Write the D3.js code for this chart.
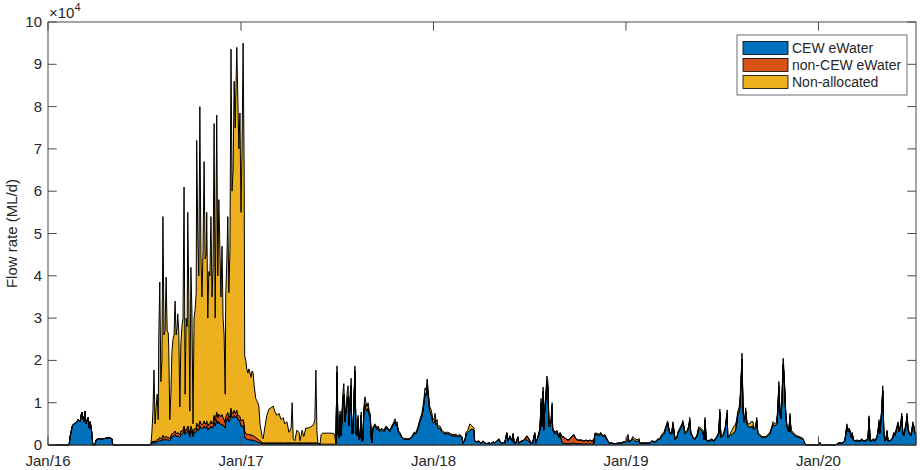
<!DOCTYPE html>
<html><head><meta charset="utf-8">
<script src="https://cdn.jsdelivr.net/npm/d3@7"></script>
<style>
body{margin:0;background:#fff}
svg{display:block}
text{font-family:"Liberation Sans",Arial,Helvetica,sans-serif;fill:#262626}
</style>
</head><body>
<svg id="chart" width="920" height="470"></svg>
<script>
// ---- data (flow in ML/d; dates as day offsets from 1 Jan 2016) ----
const startDate = new Date(2016, 0, 1);
const axisEndOffset = 1646;
const seriesNames = ["CEW eWater", "non-CEW eWater", "Non-allocated"];
const xTickLabels = ["Jan/16", "Jan/17", "Jan/18", "Jan/19", "Jan/20"];
const xTickYears = [2016, 2017, 2018, 2019, 2020];
const yTickValues = [0, 10000, 20000, 30000, 40000, 50000, 60000, 70000, 80000, 90000, 100000];

const dayOffset = [
0,40,42,46,49,53,57,61,64,68,
70,72,76,78,80,83,85,89,91,95,
102,110,118,121,123,195,
197,199,201,203,205,207,209,210,212,214,
216,218,220,222,224,226,228,229,231,233,
235,237,239,241,243,245,246,248,250,252,
254,256,258,260,262,264,265,267,269,271,
273,275,277,279,281,282,284,286,288,290,
292,294,296,298,300,301,303,305,307,309,
311,313,315,317,318,320,322,324,326,328,
330,332,334,336,337,339,341,343,345,347,
349,351,353,355,356,358,360,362,364,366,
368,370,372,373,375,377,379,381,383,385,
387,389,391,392,394,396,398,400,402,404,
406,408,
411,415,419,423,427,430,434,438,442,446,
449,453,457,461,463,465,468,472,476,478,
482,485,489,493,497,501,504,506,508,510,
512,516,518,521,529,537,542,544,546,
548,550,552,554,556,559,561,563,565,567,
569,571,573,575,576,578,580,582,584,586,
588,590,592,594,595,597,599,601,603,605,
607,609,611,613,614,616,620,624,626,629,
633,637,641,645,648,652,656,658,660,662,
664,667,671,675,679,683,686,690,694,698,
702,705,709,711,713,715,717,719,721,723,
724,726,728,730,732,734,736,738,739,743,
747,751,755,758,762,766,770,774,777,781,
785,787,791,793,796,800,804,808,809,813,
817,821,825,829,832,836,840,844,847,851,
855,859,863,866,870,872,876,880,882,884,
887,891,893,897,900,904,908,912,916,919,
923,925,929,933,935,937,939,940,942,944,
946,948,950,952,954,956,957,961,965,969,
971,975,978,982,986,990,993,997,1001,1005,
1009,1012,1016,1020,1024,1028,1031,1033,1035,1037,
1041,1045,1048,1052,1056,1060,1064,1069,1075,1081,
1086,1092,1096,1100,1102,1105,1109,1113,1117,1121,
1122,1128,1132,1136,1141,1145,1151,1157,1160,1164,
1168,1172,1175,1179,1183,1185,1189,1193,1194,1198,
1202,1204,1208,1212,1215,1217,1219,1223,1227,1231,
1234,1238,1242,1244,1246,1248,1251,1255,1259,1263,
1265,1268,1272,1274,1276,1280,1284,1288,1289,1293,
1297,1301,1303,1306,1308,1310,1312,1314,1316,1318,
1320,1322,1323,1325,1327,1331,1333,1337,1338,1342,
1344,1346,1350,1354,1357,1361,1365,1369,1373,1375,
1378,1382,1384,1386,1388,1390,1392,1394,1395,1397,
1399,1401,1403,1405,1407,1409,1413,1416,1420,1424,
1428,1432,1435,1437,1462,1464,1466,1494,1498,1505,
1511,1513,1515,1517,1519,1521,1523,1525,1527,1530,
1534,1538,1542,1543,1547,1551,1555,1557,1559,1562,
1566,1568,1572,1574,1576,1577,1579,1581,1583,1585,
1587,1589,1591,1593,1596,1600,1602,1604,1606,1608,
1610,1612,1614,1615,1617,1619,1621,1623,1625,1627,
1629,1631,1633,1634,1636,1638,1640,1642,1644,1646
];

const cew = [
0,0,2000,4500,5000,5200,6000,5500,7800,5500,
8000,5000,6500,4000,5500,3000,0,0,1200,1500,
1400,1600,1700,1500,0,0,
500,500,600,500,600,800,800,1000,1200,1000,
1000,1500,1200,1200,1400,1200,1200,1200,1000,1500,
2000,2000,2200,2500,2000,2000,2200,2000,1800,2500,
2500,2800,3500,2500,3000,3000,3500,3000,2000,3500,
3000,2000,3000,3000,3200,4000,3500,3500,4500,4000,
3800,4000,4500,4000,4000,4500,3500,4000,4000,4500,
4000,4200,5500,4500,5000,6000,5000,5500,5000,4800,
5000,4500,4500,4000,5500,6000,6500,5500,6000,7500,
6500,6500,7000,6500,6500,7000,6000,6000,5500,4500,
4500,4500,3500,2000,1500,1400,1300,1300,1200,1200,
1200,1100,1000,1000,900,800,700,600,500,400,
300,300,
300,300,300,300,300,300,300,300,300,300,
300,300,300,300,300,300,300,300,300,300,
300,300,300,300,300,300,300,300,300,300,
200,200,200,200,200,200,200,200,300,
17200,2700,1800,7200,2200,10500,12000,5500,8000,10000,
11500,4500,10500,14000,2700,2700,9000,17500,2700,2200,
6200,1300,1800,7000,900,900,8000,9800,8500,8000,
8800,7200,6800,1800,500,3800,4600,3700,4200,3200,
3700,3200,4200,3700,3200,4200,5000,5500,4500,5000,
3200,2700,1800,1300,1300,1300,1400,1800,2700,2700,
4100,5500,6800,8200,10000,12200,11800,14000,11800,9000,
8000,7500,6500,5400,5200,6000,4800,5200,4000,4000,
3100,2700,2700,2700,2500,2200,2200,2200,2000,2200,
1800,400,1300,2700,3000,3500,3800,3500,900,700,
900,400,900,400,300,500,300,700,400,900,
1300,400,400,400,2700,900,2000,900,2500,400,
400,1800,400,900,900,1300,1200,800,400,400,
2700,400,1800,3500,9500,4400,12000,3500,8000,10500,
14500,13300,4400,4400,5300,9000,3500,2600,3000,1700,
2500,500,400,300,300,300,400,500,300,300,
300,300,200,300,200,300,200,300,300,2500,
2500,2200,2700,2000,2200,1300,400,400,300,400,
400,700,700,1500,700,900,1500,1000,800,1200,
400,400,400,400,400,900,700,1300,1300,2200,
2700,4100,5200,2700,2700,5000,1300,1800,2700,3600,
4500,5300,2700,3100,4100,5900,2700,1800,1300,2200,
3900,3600,3100,1300,5900,1300,900,1000,1300,900,
1300,1800,2700,7700,1800,2200,3600,7500,1800,2200,
2500,3000,3200,5200,7200,7700,9000,13800,20200,8200,
5400,6300,8000,5400,4500,4200,4300,4500,3600,4100,
5900,2700,2200,1800,1800,1800,2200,2700,4100,5000,
4500,5000,8200,13800,7200,6300,11000,19000,17700,13000,
7200,4500,3600,3100,6800,3100,2700,2200,2000,1800,
1600,1300,400,0,0,500,0,0,400,400,
900,2700,4500,3100,3600,3100,1800,2700,1300,900,
1000,900,1000,1300,900,1000,1300,6300,900,1000,
1300,900,1800,3100,5400,2700,4500,8200,12800,2700,
900,1300,3100,900,900,1300,1800,2700,2200,3100,
4100,5000,3100,3600,4500,6800,2700,2200,3600,4500,
6800,3600,2700,2700,2200,3100,5000,4100,2700,2500
];

const nonCew = [
0,0,0,0,0,0,0,0,0,0,
0,0,0,0,0,0,0,0,0,0,
0,0,0,0,0,0,
300,300,300,300,400,500,500,500,600,500,
600,800,600,600,700,600,600,600,500,600,
700,700,800,800,700,700,800,700,600,800,
800,800,1000,700,800,800,1000,800,600,1000,
800,600,800,800,900,1200,1000,1000,1200,1000,
1000,1000,1200,1000,1000,1200,1000,1000,1000,1200,
1000,1200,1500,1200,1500,1800,1500,1800,1800,2000,
2200,2000,1500,1200,1200,1200,1200,1000,1000,1200,
1000,1000,1200,1000,1000,1200,1000,1000,1200,1200,
1400,1500,1500,1300,1200,1200,1200,1200,1200,1200,
1100,1100,1000,1000,900,800,700,600,500,400,
300,200,
200,200,200,200,200,200,200,200,200,200,
200,200,200,200,200,200,200,200,200,200,
200,200,200,200,200,200,200,200,200,200,
100,100,0,0,0,0,0,0,0,
0,0,0,0,0,0,0,0,0,0,
0,0,0,0,0,0,0,0,0,0,
0,0,0,0,0,0,0,0,0,0,
0,0,0,0,0,0,0,0,0,0,
0,0,0,0,0,0,0,0,0,0,
0,0,0,0,0,0,0,0,0,0,
0,0,0,0,0,0,0,0,0,0,
0,0,0,0,0,0,0,0,0,0,
0,0,0,0,0,0,0,0,0,0,
0,0,0,0,0,0,0,0,0,0,
0,0,0,0,0,0,0,0,0,0,
0,0,0,0,0,0,0,0,0,0,
0,0,0,0,0,0,800,600,0,0,
0,0,0,200,500,200,700,200,400,500,
600,500,200,200,200,300,200,100,200,100,
300,1400,1500,1100,800,1100,1500,1900,1100,800,
800,800,700,800,700,800,700,800,200,0,
0,0,0,0,0,0,0,0,0,0,
0,0,0,0,0,0,0,0,0,0,
0,0,0,0,0,0,0,0,0,0,
0,0,0,0,0,0,0,0,0,0,
0,0,0,0,0,0,0,0,0,0,
0,0,0,0,0,0,0,0,0,0,
0,0,0,0,0,0,0,0,0,0,
0,0,0,0,0,0,0,0,0,0,
0,0,0,0,0,0,0,0,0,0,
0,0,0,0,0,0,0,0,0,0,
0,0,0,0,0,0,0,0,0,0,
0,0,0,0,0,0,0,0,0,0,
0,0,0,0,0,0,0,0,0,0,
0,0,0,0,0,0,0,0,0,0,
0,0,0,0,0,0,0,0,0,0,
0,0,0,0,0,0,0,0,0,0,
0,0,0,0,0,0,0,0,0,0,
0,0,0,0,0,0,0,0,0,0,
0,0,0,0,0,0,0,0,0,0
];

const nonAllocated = [
0,0,0,0,0,0,0,0,0,0,
0,0,0,0,0,0,0,0,0,0,
0,0,0,0,0,0,
2200,7200,16800,4200,8000,10700,4700,23500,36700,13500,
18400,51700,24200,25200,37600,25200,24700,21200,4500,9900,
19300,22300,23000,30700,23300,25300,28000,24300,6600,20700,
24700,26400,56500,8800,26200,24200,50500,31200,5400,37500,
27200,2400,26200,28200,31900,66800,45500,35500,74300,40000,
30200,41000,61300,39000,40000,49300,25500,36000,35000,48300,
30000,36600,69000,24300,38500,70200,33500,50700,39200,28200,
39800,23500,20000,6800,28300,35800,46300,29500,39000,84900,
52500,57500,77800,67500,74500,85800,75000,63000,71800,49300,
64100,89000,60000,17700,17300,15400,14500,15500,14600,13600,
15200,14800,12000,11000,9200,8900,8600,7800,4000,2700,
1400,1000,
3500,6500,8000,8300,8700,7500,6500,7000,5500,6000,
4500,5000,2500,3500,9500,1000,500,3000,2500,500,
3000,1500,3500,3500,3700,4000,4500,5500,17200,2500,
0,0,2300,2600,2600,2600,2500,1800,200,
1500,300,200,800,300,1500,2500,500,1000,2000,
2500,500,1500,1800,300,300,1000,1200,300,300,
800,200,200,800,100,100,1000,1600,1500,1000,
1200,800,700,200,0,400,400,300,300,300,
300,300,300,300,300,300,500,700,500,500,
300,300,200,200,200,200,200,200,300,300,
400,500,700,800,1000,1300,1200,1600,1200,1000,
1000,1000,1000,600,800,1500,700,800,500,500,
400,300,300,300,300,300,300,300,200,300,
200,100,200,300,500,1500,700,500,100,100,
100,100,100,100,0,100,0,100,100,100,
200,100,100,100,300,100,200,100,300,100,
100,200,100,100,100,200,200,100,100,100,
300,100,200,300,1000,400,1000,300,600,1000,
1200,1200,400,400,500,700,300,300,300,200,
200,100,100,100,100,100,100,100,100,100,
100,100,100,100,100,100,100,100,0,300,
300,300,300,200,300,200,100,100,0,100,
100,100,100,1000,100,100,500,500,400,300,
100,100,100,100,100,100,100,200,200,300,
300,400,500,300,300,500,200,200,300,400,
500,500,300,400,400,600,300,200,200,300,
400,400,400,200,600,200,100,200,200,100,
200,200,300,800,200,300,400,800,200,300,
1000,1500,1300,800,800,800,1000,1200,1500,800,
600,700,800,600,500,800,1200,1000,400,400,
600,300,300,200,200,200,300,300,400,500,
500,500,800,1200,800,700,1000,1500,1300,1000,
800,500,400,400,700,400,300,300,200,200,
200,200,100,0,0,100,0,0,100,100,
100,300,500,400,400,400,200,300,200,100,
200,100,200,200,100,200,200,600,100,200,
200,100,200,400,600,300,500,800,1200,300,
100,200,400,100,100,200,200,300,300,400,
400,500,400,400,500,700,300,300,400,500,
700,400,300,300,300,400,500,400,300,300
];

// ---- chart ----
const colors = ["#0072BD", "#D95319", "#EDB120"];
const keys = ["cew", "nonCew", "nonAllocated"];
const n = Math.min(dayOffset.length, cew.length, nonCew.length, nonAllocated.length);
const rows = d3.range(n).map(i => ({
  date: d3.timeDay.offset(startDate, dayOffset[i]),
  cew: cew[i], nonCew: nonCew[i], nonAllocated: nonAllocated[i]
}));

const svg = d3.select("#chart");
const L = 48, R = 916, T = 22, B = 445;
const x = d3.scaleTime()
  .domain([startDate, d3.timeDay.offset(startDate, axisEndOffset)])
  .range([L, R]);
const y = d3.scaleLinear().domain([0, 100000]).range([B, T]);

const stacked = d3.stack().keys(keys)(rows);
const area = d3.area()
  .x(d => x(d.data.date))
  .y0(d => y(d[0]))
  .y1(d => y(d[1]));

svg.append("g").selectAll("path")
  .data(stacked)
  .join("path")
  .attr("d", area)
  .attr("fill", (d, i) => colors[i])
  .attr("stroke", "#000")
  .attr("stroke-width", 1)
  .attr("stroke-linejoin", "round");

// axes box
const axisColor = "#4a4a4a";
svg.append("rect")
  .attr("x", L).attr("y", T).attr("width", R - L).attr("height", B - T)
  .attr("fill", "none").attr("stroke", axisColor).attr("stroke-width", 1);

const tickLen = 8.7;
const gTicks = svg.append("g").attr("stroke", axisColor).attr("stroke-width", 1);
yTickValues.forEach(v => {
  const yy = y(v);
  gTicks.append("line").attr("x1", L).attr("x2", L + tickLen).attr("y1", yy).attr("y2", yy);
  gTicks.append("line").attr("x1", R).attr("x2", R - tickLen).attr("y1", yy).attr("y2", yy);
});
const xTickDates = xTickYears.map(yr => new Date(yr, 0, 1));
xTickDates.forEach(dt => {
  const xx = x(dt);
  gTicks.append("line").attr("x1", xx).attr("x2", xx).attr("y1", B).attr("y2", B - tickLen);
  gTicks.append("line").attr("x1", xx).attr("x2", xx).attr("y1", T).attr("y2", T + tickLen);
});

// tick labels
svg.append("g").selectAll("text")
  .data(yTickValues)
  .join("text")
  .attr("x", 42)
  .attr("y", d => y(d) + 5)
  .attr("text-anchor", "end")
  .attr("font-size", 15)
  .text(d => d / 10000);

svg.append("g").selectAll("text")
  .data(xTickDates)
  .join("text")
  .attr("x", d => x(d))
  .attr("y", 466)
  .attr("text-anchor", "middle")
  .attr("font-size", 15)
  .text((d, i) => xTickLabels[i]);

// exponent label
const ex = svg.append("text").attr("x", 49).attr("y", 18).attr("font-size", 15);
ex.append("tspan").text("\u00D710");
ex.append("tspan").attr("font-size", 11).attr("dy", -7).text("4");

// y axis label
svg.append("text")
  .attr("transform", `translate(17,${(T + B) / 2}) rotate(-90)`)
  .attr("text-anchor", "middle")
  .attr("font-size", 15)
  .text("Flow rate (ML/d)");

// legend
const lg = svg.append("g");
lg.append("rect").attr("x", 737).attr("y", 35).attr("width", 170).attr("height", 60)
  .attr("fill", "#fff").attr("stroke", axisColor).attr("stroke-width", 0.8);
seriesNames.forEach((name, i) => {
  const cy = 48 + i * 17;
  lg.append("rect").attr("x", 743).attr("y", cy - 6.5).attr("width", 45).attr("height", 13)
    .attr("fill", colors[i]).attr("stroke", "#000").attr("stroke-width", 0.8);
  lg.append("text").attr("x", 792).attr("y", cy + 5).attr("font-size", 14).text(name);
});
</script>
</body></html>
